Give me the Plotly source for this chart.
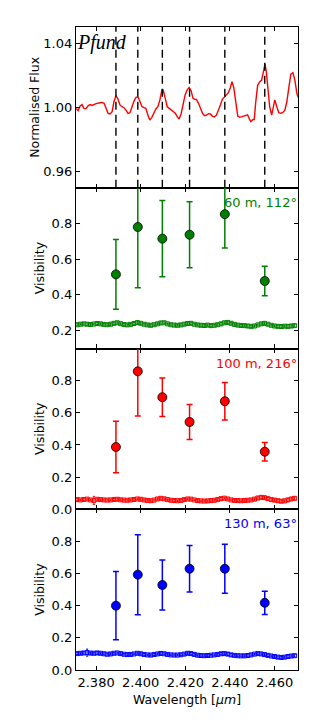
import plotly.graph_objects as go
from plotly.subplots import make_subplots

# ---------------- data ----------------
spec_wl = [2.3711, 2.3720, 2.3728, 2.3737, 2.3746, 2.3755, 2.3764, 2.3773, 2.3782, 2.3791,
           2.3800, 2.3818, 2.3827, 2.3836, 2.3845, 2.3854, 2.3863, 2.3872, 2.3880, 2.3889,
           2.3898, 2.3907, 2.3916, 2.3925, 2.3934, 2.3943, 2.3952, 2.3961, 2.3970, 2.3979,
           2.3988, 2.3997, 2.4006, 2.4015, 2.4023, 2.4032, 2.4041, 2.4050, 2.4059, 2.4068,
           2.4077, 2.4086, 2.4095, 2.4101, 2.4110, 2.4119, 2.4128, 2.4137, 2.4146, 2.4155,
           2.4164, 2.4172, 2.4181, 2.4190, 2.4199, 2.4208, 2.4217, 2.4226, 2.4234, 2.4241,
           2.4250, 2.4259, 2.4268, 2.4277, 2.4286, 2.4295, 2.4304, 2.4312, 2.4321, 2.4330,
           2.4339, 2.4348, 2.4357, 2.4366, 2.4375, 2.4384, 2.4393, 2.4402, 2.4409, 2.4417,
           2.4426, 2.4435, 2.4444, 2.4453, 2.4461, 2.4470, 2.4479, 2.4488, 2.4494, 2.4503,
           2.4509, 2.4515, 2.4524, 2.4533, 2.4542, 2.4551, 2.4557, 2.4563, 2.4569, 2.4578,
           2.4587, 2.4593, 2.4601, 2.4610, 2.4619, 2.4628, 2.4637, 2.4646, 2.4655, 2.4664,
           2.4673, 2.4682, 2.4691, 2.4700, 2.4706]
spec_flux = [0.9994, 0.9979, 1.0008, 1.0017, 0.9992, 0.9992, 1.0010, 1.0017, 1.0012, 1.0019,
             1.0023, 1.0029, 1.0031, 1.0025, 0.9994, 0.9963, 0.9959, 0.9973, 1.0035, 1.0073,
             1.0052, 1.0015, 1.0004, 0.9998, 0.9983, 0.9963, 0.9967, 1.0004, 1.0039, 1.0062,
             1.0064, 1.0035, 1.0004, 0.9998, 0.9994, 0.9952, 0.9921, 0.9938, 0.9967, 0.9990,
             1.0004, 1.0046, 1.0108, 1.0108, 1.0056, 1.0004, 0.9994, 0.9983, 0.9973, 0.9963,
             0.9942, 0.9927, 0.9959, 1.0025, 1.0077, 1.0108, 1.0124, 1.0104, 1.0058, 1.0050,
             1.0050, 1.0025, 0.9994, 0.9963, 0.9948, 0.9952, 0.9961, 0.9959, 0.9946, 0.9940,
             0.9950, 0.9979, 1.0015, 1.0050, 1.0062, 1.0077, 1.0091, 1.0124, 1.0160, 1.0124,
             1.0046, 0.9946, 0.9938, 0.9942, 0.9944, 0.9946, 0.9954, 0.9925, 0.9911, 0.9925,
             0.9925, 1.0025, 1.0137, 1.0158, 1.0170, 1.0228, 1.0270, 1.0222, 1.0129, 1.0004,
             0.9952, 0.9988, 1.0046, 1.0004, 0.9967, 0.9963, 0.9969, 0.9983, 1.0035, 1.0124,
             1.0207, 1.0216, 1.0170, 1.0087, 1.0062]

pfund_lines = [2.3889, 2.3987, 2.4097, 2.4219, 2.4377, 2.4556]

vis_60 = [0.515, 0.780, 0.715, 0.737, 0.852, 0.478]
err_60 = [0.195, 0.340, 0.213, 0.185, 0.190, 0.083]
vis_100 = [0.387, 0.858, 0.697, 0.543, 0.672, 0.358]
err_100 = [0.160, 0.278, 0.120, 0.109, 0.117, 0.058]
vis_130 = [0.400, 0.593, 0.529, 0.630, 0.630, 0.418]
err_130 = [0.212, 0.249, 0.156, 0.145, 0.153, 0.072]

band_wl = [2.3715, 2.3730, 2.3745, 2.3760, 2.3775, 2.3790, 2.3805, 2.3820, 2.3835, 2.3850,
           2.3865, 2.3880, 2.3895, 2.3910, 2.3925, 2.3940, 2.3955, 2.3970, 2.3985, 2.4000,
           2.4015, 2.4030, 2.4045, 2.4060, 2.4075, 2.4090, 2.4105, 2.4120, 2.4135, 2.4150,
           2.4165, 2.4180, 2.4195, 2.4210, 2.4225, 2.4240, 2.4255, 2.4270, 2.4285, 2.4300,
           2.4315, 2.4330, 2.4345, 2.4360, 2.4375, 2.4390, 2.4405, 2.4420, 2.4435, 2.4450,
           2.4465, 2.4480, 2.4495, 2.4510, 2.4525, 2.4540, 2.4555, 2.4570, 2.4585, 2.4600,
           2.4615, 2.4630, 2.4645, 2.4660, 2.4675, 2.4690]
band_60 = [0.233, 0.236, 0.238, 0.236, 0.234, 0.237, 0.240, 0.238, 0.235, 0.233, 0.236, 0.241,
           0.244, 0.239, 0.234, 0.232, 0.235, 0.240, 0.245, 0.241, 0.236, 0.232, 0.230, 0.233,
           0.238, 0.243, 0.244, 0.238, 0.233, 0.231, 0.230, 0.232, 0.236, 0.240, 0.241, 0.236,
           0.232, 0.230, 0.229, 0.231, 0.228, 0.230, 0.233, 0.238, 0.244, 0.246, 0.241, 0.235,
           0.231, 0.229, 0.228, 0.226, 0.224, 0.226, 0.232, 0.238, 0.241, 0.236, 0.230, 0.226,
           0.224, 0.223, 0.225, 0.224, 0.226, 0.228]
band_60_err = [0.006, 0.005, 0.006, 0.007, 0.006, 0.005, 0.006, 0.006, 0.005, 0.006, 0.007, 0.006,
               0.006, 0.005, 0.006, 0.006, 0.005, 0.006, 0.007, 0.006, 0.005, 0.006, 0.006, 0.005,
               0.006, 0.007, 0.006, 0.005, 0.006, 0.006, 0.005, 0.006, 0.006, 0.007, 0.006, 0.005,
               0.006, 0.006, 0.005, 0.006, 0.006, 0.005, 0.006, 0.007, 0.006, 0.006, 0.005, 0.006,
               0.006, 0.005, 0.006, 0.007, 0.006, 0.006, 0.005, 0.006, 0.007, 0.006, 0.005, 0.006,
               0.006, 0.007, 0.006, 0.008, 0.007, 0.006]
band_100 = [0.060, 0.058, 0.061, 0.063, 0.058, 0.055, 0.062, 0.060, 0.058, 0.057, 0.058, 0.061,
            0.062, 0.059, 0.057, 0.056, 0.058, 0.061, 0.064, 0.062, 0.058, 0.055, 0.053, 0.057,
            0.064, 0.068, 0.065, 0.060, 0.056, 0.054, 0.053, 0.055, 0.060, 0.064, 0.063, 0.058,
            0.054, 0.052, 0.051, 0.052, 0.054, 0.056, 0.060, 0.066, 0.069, 0.064, 0.058, 0.055,
            0.054, 0.053, 0.055, 0.056, 0.058, 0.063, 0.070, 0.074, 0.072, 0.066, 0.060, 0.057,
            0.053, 0.050, 0.052, 0.058, 0.064, 0.068]
band_100_err = [0.006, 0.005, 0.007, 0.006, 0.005, 0.025, 0.006, 0.005, 0.006, 0.006, 0.005, 0.006,
                0.007, 0.006, 0.005, 0.006, 0.006, 0.005, 0.006, 0.007, 0.006, 0.005, 0.006, 0.006,
                0.007, 0.006, 0.006, 0.005, 0.006, 0.006, 0.005, 0.006, 0.007, 0.006, 0.006, 0.005,
                0.006, 0.005, 0.006, 0.006, 0.005, 0.006, 0.006, 0.007, 0.006, 0.006, 0.005, 0.006,
                0.006, 0.005, 0.006, 0.006, 0.006, 0.007, 0.008, 0.009, 0.008, 0.007, 0.009, 0.008,
                0.007, 0.008, 0.007, 0.009, 0.008, 0.009]
band_130 = [0.102, 0.104, 0.106, 0.108, 0.105, 0.104, 0.106, 0.104, 0.101, 0.098, 0.100, 0.104,
            0.106, 0.102, 0.098, 0.096, 0.097, 0.100, 0.104, 0.101, 0.097, 0.094, 0.093, 0.096,
            0.100, 0.103, 0.101, 0.097, 0.094, 0.093, 0.093, 0.095, 0.099, 0.104, 0.102, 0.097,
            0.092, 0.090, 0.089, 0.090, 0.092, 0.094, 0.097, 0.101, 0.102, 0.099, 0.094, 0.091,
            0.089, 0.088, 0.088, 0.090, 0.094, 0.099, 0.102, 0.100, 0.096, 0.091, 0.087, 0.084,
            0.080, 0.078, 0.080, 0.084, 0.087, 0.089]
band_130_err = [0.006, 0.007, 0.008, 0.022, 0.007, 0.006, 0.008, 0.007, 0.006, 0.006, 0.007, 0.006,
                0.006, 0.006, 0.005, 0.006, 0.006, 0.005, 0.006, 0.007, 0.006, 0.005, 0.006, 0.006,
                0.006, 0.007, 0.006, 0.006, 0.005, 0.006, 0.005, 0.006, 0.007, 0.008, 0.007, 0.006,
                0.006, 0.005, 0.006, 0.006, 0.005, 0.006, 0.006, 0.007, 0.006, 0.009, 0.008, 0.006,
                0.006, 0.006, 0.007, 0.008, 0.007, 0.006, 0.006, 0.007, 0.006, 0.007, 0.006, 0.006,
                0.007, 0.006, 0.007, 0.008, 0.007, 0.008]

baselines = ["60 m, 112°", "100 m, 216°", "130 m, 63°"]
colors = ["#008000", "#ff0000", "#0000ff"]
x_ticks = [2.380, 2.400, 2.420, 2.440, 2.460]
flux_ticks = [0.96, 1.00, 1.04]
vis_ticks_60 = [0.2, 0.4, 0.6, 0.8]
vis_ticks = [0.0, 0.2, 0.4, 0.6, 0.8]

# ---------------- figure ----------------
FONT = "DejaVu Sans"
fig = make_subplots(rows=4, cols=1, shared_xaxes=True, vertical_spacing=0)

fig.add_trace(go.Scatter(x=spec_wl, y=spec_flux, mode="lines",
                         line=dict(color="#ff0000", width=1.4), showlegend=False),
              row=1, col=1)
for wl in pfund_lines:
    fig.add_shape(type="line", xref="x", yref="y domain", x0=wl, x1=wl, y0=0, y1=1,
                  line=dict(color="black", width=1.4, dash="8px,5px"))

vis_sets = [(vis_60, err_60, band_60, band_60_err),
            (vis_100, err_100, band_100, band_100_err),
            (vis_130, err_130, band_130, band_130_err)]
for i, (v, e, b, be) in enumerate(vis_sets):
    r = i + 2
    c = colors[i]
    fig.add_trace(go.Scatter(x=band_wl, y=b, mode="markers",
                             marker=dict(symbol="square-open", size=4, color=c,
                                         line=dict(width=1, color=c)),
                             error_y=dict(type="data", array=be, color=c, thickness=1, width=1),
                             showlegend=False), row=r, col=1)
    fig.add_trace(go.Scatter(x=pfund_lines, y=v, mode="markers",
                             marker=dict(symbol="circle", size=9, color=c,
                                         line=dict(width=0.8, color="black")),
                             error_y=dict(type="data", array=e, color=c, thickness=1.5, width=3),
                             showlegend=False), row=r, col=1)
    fig.add_annotation(text=baselines[i], xref=f"x{r} domain", yref=f"y{r} domain",
                       x=1.0, y=1.0, xanchor="right", yanchor="top", yshift=-5, xshift=1,
                       showarrow=False, font=dict(family=FONT, size=13, color=c))

fig.add_annotation(text="<i>Pfund</i>", xref="x domain", yref="y domain", x=0, y=1,
                   xanchor="left", yanchor="top", yshift=-2, xshift=-1, showarrow=False,
                   font=dict(family="Liberation Serif", size=20, color="black"))

axis_common = dict(showline=True, linecolor="black", linewidth=1.2, mirror="allticks",
                   ticks="inside", ticklen=4, tickwidth=1, tickcolor="black",
                   showgrid=False, zeroline=False, automargin=False,
                   tickfont=dict(family=FONT, size=13, color="black"))

for r in range(1, 5):
    fig.update_xaxes(range=[2.371, 2.4705], tickvals=x_ticks, tickformat=".3f",
                     showticklabels=(r == 4), row=r, col=1, **axis_common)

fig.update_xaxes(title=dict(text="Wavelength [<i>μm</i>]", standoff=6,
                            font=dict(family=FONT, size=12.5, color="black")), row=4, col=1)

fig.update_yaxes(range=[0.95, 1.05], tickvals=flux_ticks, tickformat=".2f",
                 title=dict(text="Normalised Flux", standoff=0,
                            font=dict(family=FONT, size=12.5, color="black")),
                 row=1, col=1, **axis_common)
fig.update_yaxes(range=[0.1, 1.0], tickvals=vis_ticks_60, tickformat=".1f",
                 title=dict(text="Visibility", standoff=4,
                            font=dict(family=FONT, size=12.5, color="black")),
                 row=2, col=1, **axis_common)
for r in (3, 4):
    fig.update_yaxes(range=[0.0, 1.0], tickvals=vis_ticks, tickformat=".1f",
                     title=dict(text="Visibility", standoff=4,
                                font=dict(family=FONT, size=12.5, color="black")),
                     row=r, col=1, **axis_common)

# page body has an 8px default margin, so the figure is 8px smaller each way
fig.update_layout(width=304, height=714, margin=dict(l=68, r=14, t=19, b=52),
                  paper_bgcolor="white", plot_bgcolor="white",
                  font=dict(family=FONT, size=12.5, color="black"))

fig.write_html("out.html")
